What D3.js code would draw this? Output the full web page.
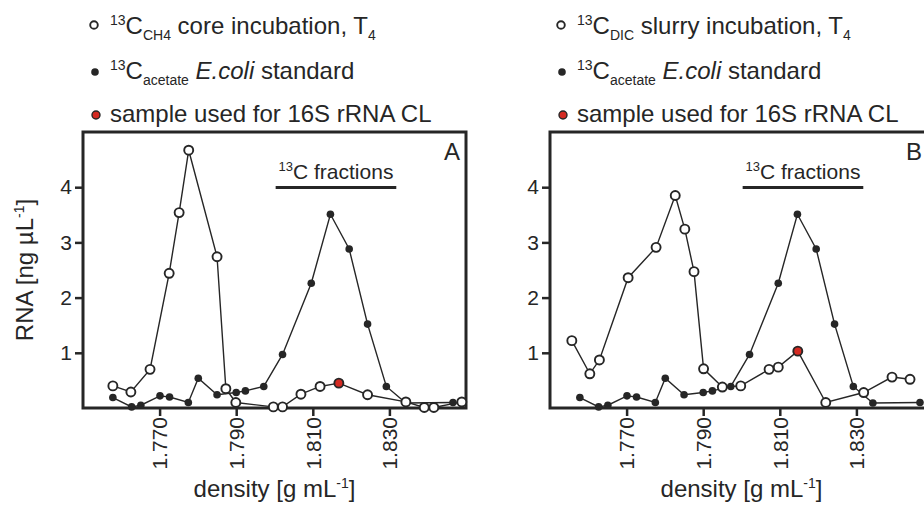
<!DOCTYPE html>
<html>
<head>
<meta charset="utf-8">
<script src="https://cdn.jsdelivr.net/npm/d3@7"></script>
<style>
  html, body { margin: 0; padding: 0; background: #fff; }
  svg { display: block; font-family: "Liberation Sans", Arial, sans-serif; }
</style>
</head>
<body>
<svg id="chart" width="924" height="511"></svg>
<script>
// ---- data ----
const xTicks = [1.770, 1.790, 1.810, 1.830];
const yTicks = [1, 2, 3, 4];

// 13C-acetate E. coli standard (same in both panels)
const densStd = [1.7578, 1.7627, 1.7651, 1.7701, 1.7726, 1.7775, 1.7801, 1.7850, 1.7900, 1.7924,
                 1.7972, 1.8021, 1.8096, 1.8146, 1.8195, 1.8243, 1.8292, 1.8343, 1.8466];
const rnaStd  = [0.19, 0.02, 0.05, 0.22, 0.20, 0.10, 0.54, 0.24, 0.28, 0.31,
                 0.39, 0.97, 2.26, 3.51, 2.88, 1.52, 0.39, 0.09, 0.10];

// Panel A: 13C-CH4 core incubation, T4
const densA = [1.7578, 1.7625, 1.7675, 1.7725, 1.7751, 1.7776, 1.7850, 1.7873, 1.7899, 1.7997,
               1.8021, 1.8069, 1.8119, 1.8168, 1.8243, 1.8343, 1.8391, 1.8416, 1.8489];
const rnaA  = [0.40, 0.29, 0.70, 2.44, 3.54, 4.67, 2.74, 0.35, 0.10, 0.02,
               0.02, 0.25, 0.39, 0.45, 0.24, 0.11, 0.01, 0.01, 0.11];
const redIndexA = 13;

// Panel B: 13C-DIC slurry incubation, T4
const densB = [1.7557, 1.7604, 1.7629, 1.7704, 1.7777, 1.7827, 1.7852, 1.7876, 1.7901, 1.7950,
               1.7998, 1.8072, 1.8096, 1.8147, 1.8220, 1.8319, 1.8393, 1.8440];
const rnaB  = [1.22, 0.62, 0.87, 2.36, 2.91, 3.85, 3.24, 2.47, 0.71, 0.38,
               0.40, 0.70, 0.74, 1.03, 0.10, 0.28, 0.56, 0.52];
const redIndexB = 13;

const fractionsRange = [1.8003, 1.8318];

// ---- drawing ----
const svg = d3.select("#chart");
const ink = "#262626";
const W = 383, H = 276;

function rich(g, x, y, parts, anchor) {
  const t = g.append("text").attr("x", x).attr("y", y).attr("fill", ink)
    .attr("text-anchor", anchor || "start");
  let prev = 0;
  parts.forEach(p => {
    const sh = p.sh || 0;
    const ts = t.append("tspan").attr("font-size", p.s).attr("dy", sh - prev).text(p.t);
    if (p.it) ts.attr("font-style", "italic");
    prev = sh;
  });
  return t;
}

function panel(ox, dens, rna, redIdx, sourceLabel, letter, showYTitle, letterX) {
  const g = svg.append("g").attr("transform", `translate(${ox},132)`);
  const x = d3.scaleLinear().domain([1.75, 1.85]).range([0, W]);
  const y = d3.scaleLinear().domain([0, 5]).range([H, 0]);

  // legend
  const lg = svg.append("g").attr("transform", `translate(${ox},0)`);
  lg.append("circle").attr("cx", 11).attr("cy", 25).attr("r", 3.8)
    .attr("fill", "#fff").attr("stroke", ink).attr("stroke-width", 1.9);
  rich(lg, 27, 34, [{t: "13", s: 14, sh: -9}, {t: "C", s: 24}, {t: sourceLabel, s: 14, sh: 6},
                    {t: sourceLabel === "CH4" ? " core incubation, T" : " slurry incubation, T", s: 24},
                    {t: "4", s: 14, sh: 6}]);
  lg.append("circle").attr("cx", 12).attr("cy", 72).attr("r", 3.8).attr("fill", ink);
  rich(lg, 27, 79, [{t: "13", s: 14, sh: -9}, {t: "C", s: 24}, {t: "acetate", s: 14, sh: 6},
                    {t: " ", s: 24}, {t: "E.coli", s: 24, it: true}, {t: " standard", s: 24}]);
  lg.append("circle").attr("cx", 13).attr("cy", 115).attr("r", 4)
    .attr("fill", "#d42a22").attr("stroke", ink).attr("stroke-width", 1.4);
  rich(lg, 27, 122, [{t: "sample used for 16S rRNA CL", s: 24}]);

  // axes
  const ya = g.append("g").call(d3.axisLeft(y).tickValues(yTicks).tickSize(8).tickPadding(3)
                .tickFormat(d3.format("d")));
  ya.select(".domain").remove();
  ya.selectAll("line").attr("stroke", ink).attr("stroke-width", 2.5);
  ya.selectAll("text").attr("font-size", 21).attr("fill", ink).attr("font-family", null);

  const xa = g.append("g").attr("transform", `translate(0,${H})`)
    .call(d3.axisBottom(x).tickValues(xTicks).tickSize(8).tickFormat(d3.format(".3f")));
  xa.select(".domain").remove();
  xa.selectAll("line").attr("stroke", ink).attr("stroke-width", 2.5);
  xa.selectAll("text").attr("font-size", 21).attr("fill", ink).attr("font-family", null)
    .attr("text-anchor", "end").attr("x", 0).attr("y", 0).attr("dy", "0.35em")
    .attr("transform", "translate(0,9) rotate(-90)");

  // frame
  g.append("rect").attr("x", 0).attr("y", 0).attr("width", W).attr("height", H)
    .attr("fill", "none").attr("stroke", ink).attr("stroke-width", 3);

  // axis titles
  if (showYTitle) {
    const yt = svg.append("text").attr("text-anchor", "middle").attr("fill", ink)
      .attr("transform", `translate(${ox - 50},270) rotate(-90)`);
    yt.append("tspan").attr("font-size", 24).text("RNA [ng µL");
    yt.append("tspan").attr("font-size", 14).attr("dy", -9).text("-1");
    yt.append("tspan").attr("font-size", 24).attr("dy", 9).text("]");
  }

  rich(svg, ox + W / 2, 497, [{t: "density [g mL", s: 24}, {t: "-1", s: 14, sh: -9}, {t: "]", s: 24}], "middle");

  // panel letter
  g.append("text").attr("x", letterX).attr("y", 28).attr("text-anchor", "end")
    .attr("font-size", 24).attr("fill", ink).text(letter);

  // 13C fractions label
  g.append("line").attr("x1", x(fractionsRange[0])).attr("x2", x(fractionsRange[1]))
    .attr("y1", 55.5).attr("y2", 55.5).attr("stroke", ink).attr("stroke-width", 3);
  rich(g, (x(fractionsRange[0]) + x(fractionsRange[1])) / 2, 47,
       [{t: "13", s: 13, sh: -8}, {t: "C fractions", s: 21}], "middle");

  const line = d3.line().x(d => x(d[0])).y(d => y(d[1]));

  // standard series
  const std = d3.zip(densStd, rnaStd);
  g.append("path").datum(std).attr("d", line).attr("fill", "none")
    .attr("stroke", ink).attr("stroke-width", 1.4);
  g.selectAll(".std").data(std).join("circle").attr("class", "std")
    .attr("cx", d => x(d[0])).attr("cy", d => y(d[1])).attr("r", 3.8).attr("fill", ink);

  // sample series
  const smp = d3.zip(dens, rna);
  g.append("path").datum(smp).attr("d", line).attr("fill", "none")
    .attr("stroke", ink).attr("stroke-width", 1.4);
  g.selectAll(".smp").data(smp).join("circle").attr("class", "smp")
    .attr("cx", d => x(d[0])).attr("cy", d => y(d[1])).attr("r", 4.5)
    .attr("fill", (d, i) => i === redIdx ? "#d42a22" : "#fff")
    .attr("stroke", ink).attr("stroke-width", 1.9);
}

panel(83, densA, rnaA, redIndexA, "CH4", "A", true, 377);
panel(550, densB, rnaB, redIndexB, "DIC", "B", false, 372);
</script>
</body>
</html>
